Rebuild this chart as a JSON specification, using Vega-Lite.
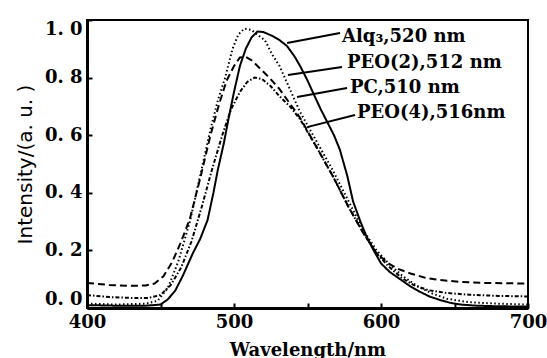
{
  "$schema": "https://vega.github.io/schema/vega-lite/v6.json",
  "autosize": {"type": "none"},
  "padding": {"left": 87, "top": 20, "right": 19, "bottom": 50},
  "width": 441,
  "height": 288,
  "background": "white",
  "config": {
    "view": {"stroke": "black", "strokeWidth": 2},
    "axis": {"grid": false, "domainColor": "black", "domainWidth": 3, "tickColor": "black", "tickWidth": 2, "labelColor": "black", "titleColor": "black"}
  },
  "datasets": {
    "curves": [
      {"s": "Alq3", "w": 400, "v": 0.010}, {"s": "Alq3", "w": 420, "v": 0.008}, {"s": "Alq3", "w": 440, "v": 0.008}, {"s": "Alq3", "w": 450, "v": 0.012}, {"s": "Alq3", "w": 455, "v": 0.03}, {"s": "Alq3", "w": 460, "v": 0.06}, {"s": "Alq3", "w": 465, "v": 0.11}, {"s": "Alq3", "w": 472, "v": 0.19}, {"s": "Alq3", "w": 477, "v": 0.24}, {"s": "Alq3", "w": 482, "v": 0.305}, {"s": "Alq3", "w": 486, "v": 0.40}, {"s": "Alq3", "w": 489, "v": 0.48}, {"s": "Alq3", "w": 493, "v": 0.57}, {"s": "Alq3", "w": 496, "v": 0.65}, {"s": "Alq3", "w": 500, "v": 0.75}, {"s": "Alq3", "w": 504, "v": 0.84}, {"s": "Alq3", "w": 508, "v": 0.90}, {"s": "Alq3", "w": 512, "v": 0.94}, {"s": "Alq3", "w": 516, "v": 0.96}, {"s": "Alq3", "w": 520, "v": 0.958}, {"s": "Alq3", "w": 526, "v": 0.945}, {"s": "Alq3", "w": 531, "v": 0.93}, {"s": "Alq3", "w": 536, "v": 0.91}, {"s": "Alq3", "w": 541, "v": 0.875}, {"s": "Alq3", "w": 545, "v": 0.84}, {"s": "Alq3", "w": 550, "v": 0.79}, {"s": "Alq3", "w": 554, "v": 0.745}, {"s": "Alq3", "w": 559, "v": 0.69}, {"s": "Alq3", "w": 563, "v": 0.65}, {"s": "Alq3", "w": 568, "v": 0.60}, {"s": "Alq3", "w": 572, "v": 0.55}, {"s": "Alq3", "w": 577, "v": 0.46}, {"s": "Alq3", "w": 581, "v": 0.37}, {"s": "Alq3", "w": 586, "v": 0.30}, {"s": "Alq3", "w": 590, "v": 0.25}, {"s": "Alq3", "w": 595, "v": 0.20}, {"s": "Alq3", "w": 600, "v": 0.155}, {"s": "Alq3", "w": 606, "v": 0.125}, {"s": "Alq3", "w": 613, "v": 0.10}, {"s": "Alq3", "w": 620, "v": 0.075}, {"s": "Alq3", "w": 627, "v": 0.055}, {"s": "Alq3", "w": 633, "v": 0.04}, {"s": "Alq3", "w": 640, "v": 0.028}, {"s": "Alq3", "w": 647, "v": 0.018}, {"s": "Alq3", "w": 654, "v": 0.012}, {"s": "Alq3", "w": 665, "v": 0.008}, {"s": "Alq3", "w": 680, "v": 0.006}, {"s": "Alq3", "w": 700, "v": 0.005},

      {"s": "PC", "w": 400, "v": 0.015}, {"s": "PC", "w": 420, "v": 0.012}, {"s": "PC", "w": 440, "v": 0.015}, {"s": "PC", "w": 448, "v": 0.025}, {"s": "PC", "w": 455, "v": 0.07}, {"s": "PC", "w": 462, "v": 0.16}, {"s": "PC", "w": 470, "v": 0.30}, {"s": "PC", "w": 477, "v": 0.46}, {"s": "PC", "w": 484, "v": 0.62}, {"s": "PC", "w": 489, "v": 0.72}, {"s": "PC", "w": 494, "v": 0.80}, {"s": "PC", "w": 499, "v": 0.90}, {"s": "PC", "w": 503, "v": 0.95}, {"s": "PC", "w": 507, "v": 0.97}, {"s": "PC", "w": 512, "v": 0.965}, {"s": "PC", "w": 517, "v": 0.945}, {"s": "PC", "w": 521, "v": 0.93}, {"s": "PC", "w": 526, "v": 0.88}, {"s": "PC", "w": 531, "v": 0.84}, {"s": "PC", "w": 538, "v": 0.76}, {"s": "PC", "w": 545, "v": 0.68}, {"s": "PC", "w": 556, "v": 0.58}, {"s": "PC", "w": 567, "v": 0.48}, {"s": "PC", "w": 578, "v": 0.37}, {"s": "PC", "w": 588, "v": 0.27}, {"s": "PC", "w": 597, "v": 0.20}, {"s": "PC", "w": 606, "v": 0.15}, {"s": "PC", "w": 615, "v": 0.11}, {"s": "PC", "w": 625, "v": 0.075}, {"s": "PC", "w": 635, "v": 0.05}, {"s": "PC", "w": 645, "v": 0.032}, {"s": "PC", "w": 660, "v": 0.02}, {"s": "PC", "w": 680, "v": 0.015}, {"s": "PC", "w": 700, "v": 0.012},

      {"s": "PEO2", "w": 400, "v": 0.087}, {"s": "PEO2", "w": 415, "v": 0.08}, {"s": "PEO2", "w": 430, "v": 0.077}, {"s": "PEO2", "w": 440, "v": 0.078}, {"s": "PEO2", "w": 446, "v": 0.085}, {"s": "PEO2", "w": 452, "v": 0.11}, {"s": "PEO2", "w": 458, "v": 0.16}, {"s": "PEO2", "w": 464, "v": 0.23}, {"s": "PEO2", "w": 470, "v": 0.31}, {"s": "PEO2", "w": 477, "v": 0.45}, {"s": "PEO2", "w": 484, "v": 0.60}, {"s": "PEO2", "w": 490, "v": 0.71}, {"s": "PEO2", "w": 495, "v": 0.79}, {"s": "PEO2", "w": 500, "v": 0.84}, {"s": "PEO2", "w": 504, "v": 0.87}, {"s": "PEO2", "w": 508, "v": 0.872}, {"s": "PEO2", "w": 512, "v": 0.86}, {"s": "PEO2", "w": 518, "v": 0.83}, {"s": "PEO2", "w": 524, "v": 0.80}, {"s": "PEO2", "w": 531, "v": 0.76}, {"s": "PEO2", "w": 538, "v": 0.71}, {"s": "PEO2", "w": 545, "v": 0.66}, {"s": "PEO2", "w": 556, "v": 0.56}, {"s": "PEO2", "w": 567, "v": 0.46}, {"s": "PEO2", "w": 578, "v": 0.35}, {"s": "PEO2", "w": 588, "v": 0.26}, {"s": "PEO2", "w": 597, "v": 0.19}, {"s": "PEO2", "w": 605, "v": 0.155}, {"s": "PEO2", "w": 612, "v": 0.135}, {"s": "PEO2", "w": 620, "v": 0.12}, {"s": "PEO2", "w": 630, "v": 0.105}, {"s": "PEO2", "w": 640, "v": 0.097}, {"s": "PEO2", "w": 655, "v": 0.09}, {"s": "PEO2", "w": 670, "v": 0.087}, {"s": "PEO2", "w": 685, "v": 0.086}, {"s": "PEO2", "w": 700, "v": 0.085},

      {"s": "PEO4", "w": 400, "v": 0.045}, {"s": "PEO4", "w": 415, "v": 0.038}, {"s": "PEO4", "w": 430, "v": 0.035}, {"s": "PEO4", "w": 442, "v": 0.035}, {"s": "PEO4", "w": 450, "v": 0.045}, {"s": "PEO4", "w": 457, "v": 0.08}, {"s": "PEO4", "w": 464, "v": 0.14}, {"s": "PEO4", "w": 471, "v": 0.23}, {"s": "PEO4", "w": 478, "v": 0.35}, {"s": "PEO4", "w": 485, "v": 0.48}, {"s": "PEO4", "w": 492, "v": 0.60}, {"s": "PEO4", "w": 498, "v": 0.69}, {"s": "PEO4", "w": 504, "v": 0.75}, {"s": "PEO4", "w": 509, "v": 0.785}, {"s": "PEO4", "w": 514, "v": 0.80}, {"s": "PEO4", "w": 519, "v": 0.795}, {"s": "PEO4", "w": 525, "v": 0.77}, {"s": "PEO4", "w": 531, "v": 0.735}, {"s": "PEO4", "w": 538, "v": 0.70}, {"s": "PEO4", "w": 545, "v": 0.655}, {"s": "PEO4", "w": 556, "v": 0.56}, {"s": "PEO4", "w": 567, "v": 0.46}, {"s": "PEO4", "w": 578, "v": 0.35}, {"s": "PEO4", "w": 588, "v": 0.26}, {"s": "PEO4", "w": 597, "v": 0.19}, {"s": "PEO4", "w": 605, "v": 0.145}, {"s": "PEO4", "w": 614, "v": 0.105}, {"s": "PEO4", "w": 622, "v": 0.08}, {"s": "PEO4", "w": 632, "v": 0.062}, {"s": "PEO4", "w": 645, "v": 0.052}, {"s": "PEO4", "w": 660, "v": 0.046}, {"s": "PEO4", "w": 680, "v": 0.042}, {"s": "PEO4", "w": 700, "v": 0.04}
    ],
    "labels": [
      {"label": "Alq₃,520 nm", "w": 573.5, "v": 0.941, "w1": 536.1, "v1": 0.920, "w2": 572.1, "v2": 0.955},
      {"label": "PEO(2),512 nm", "w": 576.9, "v": 0.851, "w1": 536.7, "v1": 0.809, "w2": 573.5, "v2": 0.837},
      {"label": "PC,510 nm", "w": 578.9, "v": 0.764, "w1": 542.9, "v1": 0.733, "w2": 576.9, "v2": 0.764},
      {"label": "PEO(4),516nm", "w": 583.7, "v": 0.677, "w1": 549.7, "v1": 0.628, "w2": 582.3, "v2": 0.670}
    ]
  },
  "layer": [
    {
      "data": {"name": "curves"},
      "mark": {"type": "line", "color": "black", "strokeWidth": 2},
      "encoding": {
        "x": {
          "field": "w", "type": "quantitative",
          "scale": {"domain": [400, 700], "nice": false, "zero": false},
          "axis": {
            "title": "Wavelength/nm",
            "values": [400, 450, 500, 550, 600, 650, 700],
            "labelExpr": "datum.value % 100 == 0 ? datum.label : ''",
            "labelFlush": false,
            "tickSize": -5,
            "labelPadding": 10,
            "labelFont": "DejaVu Serif", "labelFontWeight": "bold", "labelFontSize": 18,
            "titleFont": "DejaVu Serif", "titleFontWeight": "bold", "titleFontSize": 18,
            "titleY": 42, "titleBaseline": "middle"
          }
        },
        "y": {
          "field": "v", "type": "quantitative",
          "scale": {"domain": [0, 1], "nice": false},
          "axis": {
            "title": "Intensity/(a. u. )",
            "values": [0, 0.2, 0.4, 0.6, 0.8, 1.0],
            "labelExpr": "replace(format(datum.value, '.1f'), '.', '. ')",
            "tickSize": -5,
            "labelPadding": 10,
            "labelFlush": true,
            "labelFont": "DejaVu Serif", "labelFontWeight": "bold", "labelFontSize": 18,
            "titleFont": "DejaVu Sans", "titleFontWeight": "normal", "titleFontSize": 20,
            "titleX": -62, "titleBaseline": "middle"
          }
        },
        "detail": {"field": "s"},
        "strokeDash": {
          "field": "s", "type": "nominal",
          "scale": {"domain": ["Alq3", "PC", "PEO2", "PEO4"], "range": [[1, 0], [1.5, 2.5], [7, 4], [4, 2, 1.5, 2]]},
          "legend": null
        }
      }
    },
    {
      "data": {"name": "labels"},
      "mark": {"type": "rule", "color": "black", "strokeWidth": 2},
      "encoding": {
        "x": {"field": "w1", "type": "quantitative"},
        "y": {"field": "v1", "type": "quantitative"},
        "x2": {"field": "w2"},
        "y2": {"field": "v2"}
      }
    },
    {
      "data": {"name": "labels"},
      "mark": {"type": "text", "align": "left", "baseline": "middle", "font": "DejaVu Serif", "fontWeight": "bold", "fontSize": 18, "color": "black"},
      "encoding": {
        "x": {"field": "w", "type": "quantitative"},
        "y": {"field": "v", "type": "quantitative"},
        "text": {"field": "label"}
      }
    }
  ]
}
